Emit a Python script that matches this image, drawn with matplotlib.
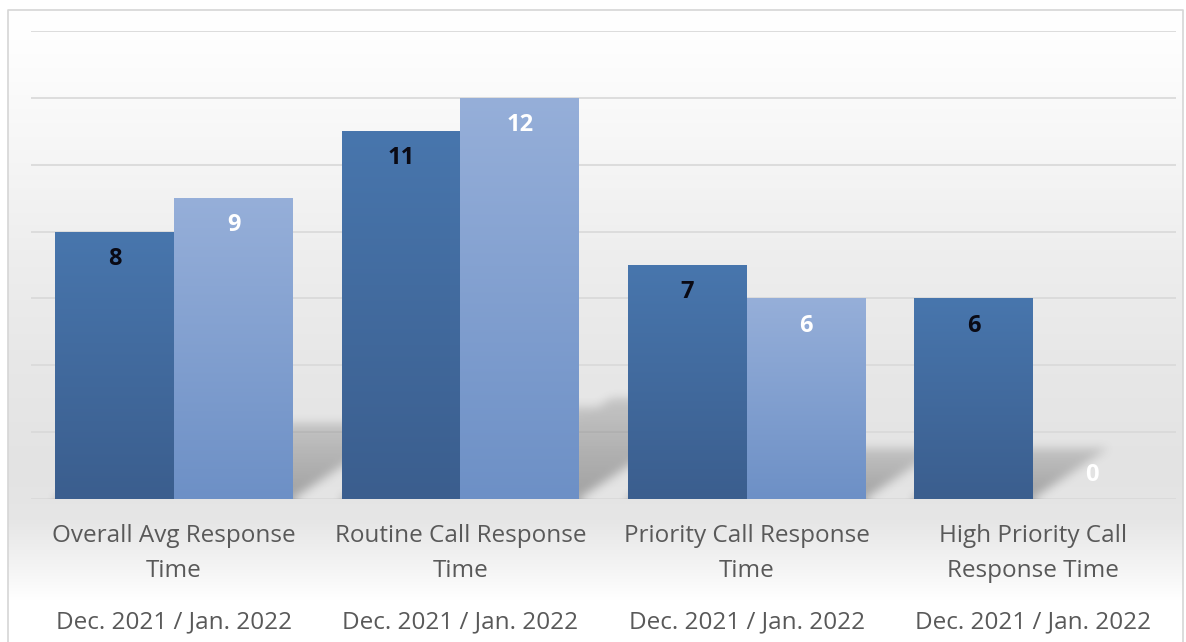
import numpy as np
import matplotlib
matplotlib.use("Agg")
import matplotlib.pyplot as plt
from matplotlib.colors import LinearSegmentedColormap

# data
categories = ["Overall Avg Response\nTime", "Routine Call Response\nTime",
              "Priority Call Response\nTime", "High Priority Call\nResponse Time"]
period_label = "Dec. 2021 / Jan. 2022"
dec_2021 = [8, 11, 7, 6]
jan_2022 = [9, 12, 6, 0]
y_ticks = [0, 2, 4, 6, 8, 10, 12, 14]

plt.rcParams['font.family'] = ['Open Sans', 'DejaVu Sans']

W, H = 1186, 642
fig = plt.figure(figsize=(W / 100, H / 100), dpi=100)
fig.patch.set_facecolor('white')


def box_blur(a, r):
    for axis in (0, 1):
        pad = [(0, 0), (0, 0)]
        pad[axis] = (r, r)
        p = np.pad(a, pad, mode='edge')
        c = np.cumsum(p, axis=axis)
        c = np.insert(c, 0, 0, axis=axis)
        n = a.shape[axis]
        a = (np.take(c, np.arange(2 * r + 1, 2 * r + 1 + n), axis=axis)
             - np.take(c, np.arange(0, n), axis=axis)) / (2 * r + 1)
    return a


# chart area background: white at top, soft gray in the middle, back to white
bg = fig.add_axes([0, 0, 1, 1], zorder=-10)
bg.set_xlim(0, W)
bg.set_ylim(H, 0)
bg.axis('off')
stops_y = [10, 40, 150, 250, 350, 470, 520, 560, 600, 642]
stops_v = [255, 254, 246, 238, 232, 227, 230, 242, 255, 255]
rows = np.interp(np.arange(10, H), stops_y, stops_v) / 255.0
grad = np.repeat(rows[:, None], 3, axis=1)[:, None, :]
bg.imshow(grad, extent=[8, 1183, H, 10], aspect='auto', interpolation='bilinear')
bg.plot([8, 8, 1183, 1183], [H, 10, 10, H], color='#d6d6d6', lw=1.2)

# plot area
ax = fig.add_axes([31 / W, 1 - 499 / H, 1145 / W, 468 / H], zorder=1)
ax.patch.set_alpha(0)
xlim = (-0.5, len(categories) - 0.5)
ylim = (0, 14)

for t in y_ticks[1:]:
    ax.axhline(t, color='#dadada', lw=1.3, zorder=0)
ax.axhline(0, color='#dadada', lw=1.3, zorder=0)

x = np.arange(len(categories))
width = 0.415
series = [(dec_2021, x - width / 2, ('#4876ad', '#3b5e8e'), '#0a0a14'),
          (jan_2022, x + width / 2, ('#96afd9', '#6d90c6'), 'white')]

# soft floor shadows behind the bars
nx, ny = 1145, 468
xs = np.linspace(xlim[0], xlim[1], nx)
ys = np.linspace(ylim[0], ylim[1], ny)
xx, yy = np.meshgrid(xs, ys)
shadow = np.zeros_like(xx)
slant = 0.175
k = 0.25
for vals, pos, _, _ in series:
    for v, p in zip(vals, pos):
        if v <= 0:
            continue
        sh = k * v
        xl, xr = p - width / 2, p + width / 2
        inside = (yy <= sh) & (xx >= xl + yy * slant) & (xx <= xr + yy * slant)
        shadow = np.maximum(shadow, inside * (1 - 0.5 * yy / sh))
shadow = box_blur(box_blur(shadow, 5), 5)
rgba = np.zeros((ny, nx, 4))
rgba[..., :3] = 0.25
rgba[..., 3] = 0.40 * shadow
ax.imshow(rgba, extent=[xlim[0], xlim[1], ylim[0], ylim[1]], origin='lower',
          aspect='auto', zorder=1, interpolation='bilinear')

# bars with vertical gradient
for vals, pos, (c_top, c_bot), lab_color in series:
    bars = ax.bar(pos, vals, width, color=c_bot, edgecolor='none', zorder=2)
    cmap = LinearSegmentedColormap.from_list('g', [c_bot, c_top])
    for bar, v in zip(bars, vals):
        if v > 0:
            g = np.linspace(0, 1, 256)[:, None]
            im = ax.imshow(g, extent=[bar.get_x(), bar.get_x() + width, 0, v],
                           origin='lower', aspect='auto', cmap=cmap, zorder=3)
            im.set_clip_path(bar)
        off = -19.5 if v > 0 else 17
        ax.annotate(f'{v}', xy=(bar.get_x() + width / 2, v), xytext=(0, off),
                    textcoords='offset points', ha='center', va='center',
                    fontsize=17, fontweight='bold', color=lab_color, zorder=5)

ax.set_xlim(*xlim)
ax.set_ylim(*ylim)
ax.set_xticks([])
ax.set_yticks([])
for s in ax.spines.values():
    s.set_visible(False)

# two-level category labels
for xi, cat in zip(x, categories):
    for j, line in enumerate(cat.split('\n')):
        ax.annotate(line, xy=(xi, 0), xycoords=('data', 'axes fraction'),
                    xytext=(0, -(37 + 35 * j) * 0.72), textcoords='offset points',
                    ha='center', va='center', fontsize=17.5, color='#595959')
    ax.annotate(period_label, xy=(xi, 0), xycoords=('data', 'axes fraction'),
                xytext=(0, -123 * 0.72), textcoords='offset points',
                ha='center', va='center', fontsize=17.5, color='#595959')

fig.savefig('out.png', dpi=100, facecolor='white')
